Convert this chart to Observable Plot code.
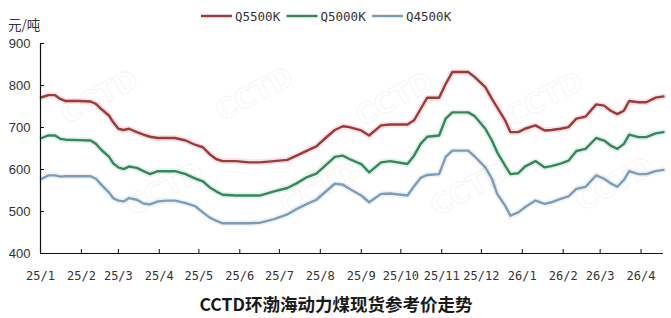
<!DOCTYPE html>
<html><head><meta charset="utf-8">
<script src="https://cdn.jsdelivr.net/npm/d3@7"></script>
<script src="https://cdn.jsdelivr.net/npm/@observablehq/plot@0.6"></script>
<style>
body{margin:0;background:#fff;}
#wrap{position:relative;width:671px;height:318px;overflow:hidden;background:#fff;}
#wrap svg{position:absolute;left:0;top:0;}
</style></head><body><div id="wrap"></div>
<script>
// ---- data ----
const dates = ["2025-01-02","2025-01-07","2025-01-12","2025-01-16","2025-01-20","2025-01-30","2025-02-08","2025-02-12","2025-02-16","2025-02-22","2025-02-25","2025-03-01","2025-03-05","2025-03-09","2025-03-15","2025-03-20","2025-03-25","2025-03-31","2025-04-07","2025-04-13","2025-04-21","2025-04-28","2025-05-04","2025-05-09","2025-05-14","2025-05-19","2025-05-29","2025-06-08","2025-06-16","2025-06-27","2025-07-07","2025-07-14","2025-07-22","2025-07-29","2025-08-06","2025-08-12","2025-08-18","2025-08-23","2025-09-01","2025-09-07","2025-09-16","2025-09-23","2025-10-06","2025-10-11","2025-10-16","2025-10-21","2025-10-30","2025-11-04","2025-11-09","2025-11-15","2025-11-21","2025-11-26","2025-12-04","2025-12-09","2025-12-13","2025-12-19","2025-12-23","2025-12-29","2026-01-03","2026-01-11","2026-01-18","2026-01-23","2026-01-30","2026-02-05","2026-02-11","2026-02-18","2026-02-26","2026-03-04","2026-03-09","2026-03-14","2026-03-19","2026-03-23","2026-03-30","2026-04-05","2026-04-12","2026-04-18"];
const q5500 = [772,777,777,768,763,763,762,756,744,728,713,697,694,697,689,683,678,675,675,675,669,659,653,637,625,620,620,617,617,620,623,633,645,655,678,694,703,701,693,681,705,707,707,717,744,771,771,804,832,832,832,820,796,768,748,717,689,689,697,705,693,694,697,701,721,726,755,752,740,732,740,763,760,760,771,774];
const q5000 = [675,681,681,673,671,670,669,661,647,630,615,605,601,607,604,596,589,596,596,596,589,579,572,558,548,540,538,538,538,548,556,567,582,590,613,630,633,625,613,593,617,620,613,633,661,678,681,721,736,736,736,727,697,669,641,609,589,591,607,620,605,608,614,621,644,649,675,669,657,649,661,683,677,677,686,689];
const q4500 = [578,586,586,583,584,584,584,578,564,545,532,526,524,532,528,519,517,524,526,526,520,513,498,486,478,472,472,472,473,482,493,506,518,528,550,566,564,554,538,522,542,543,538,560,580,587,589,630,645,645,645,631,605,578,542,514,490,498,510,526,518,522,530,536,554,559,586,578,567,559,575,596,589,589,596,599];
const seriesNames = ["Q5500K","Q5000K","Q4500K"];
const seriesColors = ["#a83535","#2e8a5a","#7b9dba"];
const yTicks = [400,500,600,700,800,900];
const xStart = "2025-01-01", xEnd = "2026-04-18", lastTick = "2026-04-02";
const unitLabel = "元/吨";
const titleText = "CCTD环渤海动力煤现货参考价走势";
const watermark = "CCTD";

// ---- build ----
const parse = d3.utcParse("%Y-%m-%d");
const rows = [];
[q5500,q5000,q4500].forEach((vals,i)=>vals.forEach((v,j)=>rows.push({date:parse(dates[j]),value:v,series:seriesNames[i]})));
const monthTicks = d3.utcMonths(parse(xStart), parse(lastTick));
const fmt = d3.utcFormat("%y/%-m");
const x0 = parse(xStart);

const chart = Plot.plot({
  width:671, height:318, marginLeft:40, marginRight:8, marginTop:43, marginBottom:65,
  style:{fontFamily:"'Liberation Sans', Arial, sans-serif", background:"transparent", color:"#333"},
  x:{type:"utc", domain:[x0, parse(xEnd)]},
  y:{domain:[400,900]},
  color:{domain:seriesNames, range:seriesColors},
  marks:[
    Plot.line(rows,{x:"date",y:"value",z:"series",stroke:"series",strokeWidth:6,strokeOpacity:0.12}),
    Plot.line(rows,{x:"date",y:"value",z:"series",stroke:"series",strokeWidth:2.4}),
    Plot.ruleX([x0],{stroke:"#111",strokeWidth:1.2}),
    Plot.ruleY([400],{stroke:"#111",strokeWidth:1.2}),
    Plot.axisY(yTicks,{tickSize:-4,tickPadding:14,fontSize:13,label:null,stroke:"#111"}),
    Plot.axisX(monthTicks,{tickSize:-4,tickPadding:22,fontSize:12,fontFamily:"'DejaVu Sans Mono', monospace",tickFormat:fmt,label:null,stroke:"#111"})
  ]
});
const wrap = document.getElementById("wrap");

// faint watermarks
const wm = d3.select(wrap).append("svg").attr("width",671).attr("height",318).style("pointer-events","none");
const wmPos = [[100,98],[255,95],[395,100],[545,100],[165,190],[320,190],[470,190],[615,185]];
wm.selectAll("text").data(wmPos).join("text")
  .attr("transform",d=>`translate(${d[0]},${d[1]}) rotate(-28)`)
  .attr("text-anchor","middle").attr("dominant-baseline","middle")
  .attr("font-family","'DejaVu Sans', sans-serif").attr("font-weight","bold").attr("font-size",28)
  .attr("fill","none").attr("stroke","#000").attr("stroke-opacity",0.035).attr("stroke-width",2)
  .text(watermark);

wrap.appendChild(chart);

// overlay: legend, unit, title
const ov = d3.select(wrap).append("svg").attr("width",671).attr("height",318).style("pointer-events","none");
const lg = ov.selectAll("g.lg").data(seriesNames).join("g").attr("class","lg")
  .attr("transform",(d,i)=>`translate(${201+i*85.5},16)`);
lg.append("line").attr("x1",0).attr("x2",31).attr("y1",0).attr("y2",0)
  .attr("stroke",(d,i)=>seriesColors[i]).attr("stroke-width",2.5);
lg.append("text").attr("x",34).attr("y",0).attr("dominant-baseline","central")
  .attr("font-family","'DejaVu Sans Mono', monospace").attr("font-size",12.5).attr("fill","#333").text(d=>d);
ov.append("text").attr("x",8).attr("y",24).attr("dominant-baseline","central")
  .attr("font-family","'Noto Sans CJK SC', sans-serif").attr("font-size",13.5).attr("fill","#333").text(unitLabel);
ov.append("text").attr("x",336).attr("y",303).attr("text-anchor","middle").attr("dominant-baseline","central")
  .attr("font-family","'Noto Sans CJK SC', sans-serif").attr("font-weight","bold").attr("font-size",17.5).attr("fill","#1a1a1a").text(titleText);
</script>
</body></html>
